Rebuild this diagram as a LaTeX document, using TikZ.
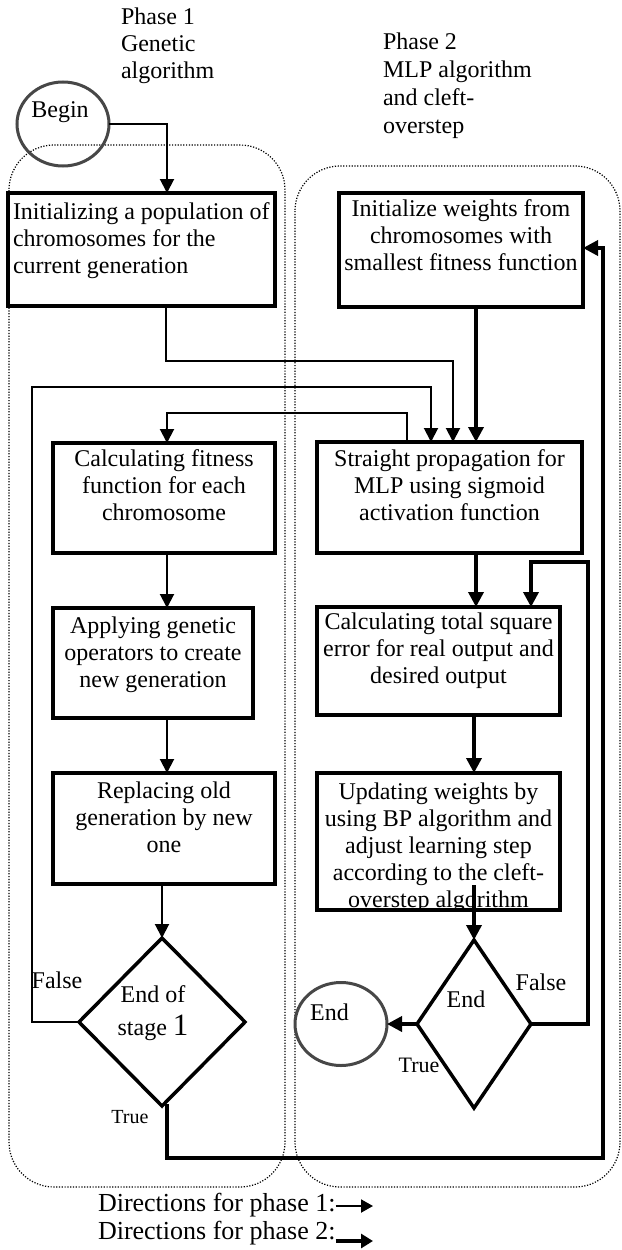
\documentclass[tikz,border=0pt]{standalone}
\usepackage{fontspec}
\setmainfont{Liberation Serif}
\usetikzlibrary{arrows.meta,shapes.geometric,calc}
\begin{document}
\begin{tikzpicture}[x=1pt,y=-1pt,
  every node/.style={inner sep=0pt,outer sep=0pt},
  fnt/.style={font=\fontsize{24}{27}\selectfont},
  box/.style={draw,line width=3.5pt,rectangle},
  txt/.style={fnt,align=center,anchor=north},
  dia/.style={draw,diamond,line width=3.5pt},
  oval/.style={draw=black!72,ellipse,line width=3pt},
  p1/.style={line width=2pt,-{Triangle[length=14pt,width=14pt]}},
  p2/.style={line width=3.5pt,-{Triangle[length=15pt,width=15pt]}},
  dotbox/.style={line width=1.2pt,dash pattern=on 1.2pt off 1.6pt,rounded corners=45pt}]
\useasboundingbox (0,0) rectangle (621,1250);

% phase regions
\draw[dotbox] (9,145) rectangle (285,1187);
\draw[dotbox] (295,166) rectangle (620,1187);

% phase labels
\node[fnt,align=left,anchor=north west] (ph1) at (121,8) {Phase 1\\Genetic\\algorithm};
\node[font=\fontsize{24}{28}\selectfont,align=left,anchor=north west] (ph2) at (383,33) {Phase 2\\MLP algorithm\\and cleft-\\overstep};

% begin / end ovals
\node[oval,minimum width=92pt,minimum height=84pt] (begin) at (63,124) {};
\node[fnt] (begint) at (60,112) {Begin};
\node[oval,minimum width=92pt,minimum height=83pt] (endn) at (341,1024) {};
\node[fnt] (endt) at (329.5,1012) {End};

% boxes
\node[box,minimum width=267pt,minimum height=113pt] (b1) at (141.5,249.5) {};
\node[fnt,align=left,anchor=north west] (t1) at ([xshift=5pt,yshift=-10pt]b1.north west) {Initializing a population of\\chromosomes for the\\current generation};

\node[box,minimum width=244pt,minimum height=114pt] (b2) at (461,250) {};
\node[txt] (t2) at ([yshift=-7pt]b2.north) {Initialize weights from\\chromosomes with\\smallest fitness function};

\node[box,minimum width=265pt,minimum height=111pt] (b3) at (449.5,497.5) {};
\node[txt] (t3) at ([yshift=-8pt]b3.north) {Straight propagation for\\MLP using sigmoid\\activation function};

\node[box,minimum width=222pt,minimum height=110pt] (b4) at (164,498) {};
\node[txt] (t4) at ([yshift=-7pt]b4.north) {Calculating fitness\\function for each\\chromosome};

\node[box,minimum width=243pt,minimum height=108pt] (b5) at (438.5,661) {};
\node[txt] (t5) at ([yshift=-6pt]b5.north) {Calculating total square\\error for real output and\\desired output};

\node[box,minimum width=200pt,minimum height=110pt] (b6) at (153,663) {};
\node[txt] (t6) at ([yshift=-9pt]b6.north) {Applying genetic\\operators to create\\new generation};

\node[box,minimum width=222pt,minimum height=111pt] (b7) at (164,828.5) {};
\node[txt] (t7) at ([yshift=-9pt]b7.north) {Replacing old\\generation by new\\one};

\begin{scope}
\clip (317,773) rectangle (560,910);
\node[txt] (t8) at (438.5,783) {Updating weights by\\using BP algorithm and\\adjust learning step\\according to the cleft-\\overstep algorithm};
\end{scope}
\node[box,minimum width=243pt,minimum height=137pt] (b8) at (438.5,841.5) {};

% decisions
\node[dia,minimum width=166pt,minimum height=168pt] (d1) at (162,1022) {};
\node[fnt,align=center] (d1t) at (153,1013) {End of\\[6pt]stage {\fontsize{31}{27}\selectfont 1}};
\node[dia,minimum width=114pt,minimum height=168pt] (d2) at (474,1024) {};
\node[fnt] (d2t) at (466,999) {End};

% branch labels
\node[fnt] (f1l) at (57,980) {False};
\node[fnt] (f2l) at (541,982) {False};
\node[font=\fontsize{20}{24}\selectfont] (tr1l) at (130,1117) {True};
\node[font=\fontsize{22}{24}\selectfont] (tr2l) at (419,1065) {True};

% phase 1 connectors
\draw[p1] (begin.east) -| ([xshift=25.5pt]b1.north);
\draw[p1] ([xshift=24.5pt]b1.south) -- ++(0,55) -| ([xshift=3.5pt]b3.north);
\coordinate (f1c) at (32,387);
\draw[p1] (d1.west) -| (f1c) -| ([xshift=-18.5pt]b3.north);
\draw[p1] ([xshift=-42.5pt]b3.north) -- ++(0,-29) -| ([xshift=3pt]b4.north);
\draw[p1] ([xshift=3pt]b4.south) -- ([xshift=14pt]b6.north);
\draw[p1] ([xshift=14pt]b6.south) -- ([xshift=3pt]b7.north);
\draw[p1] (b7.south -| d1.north) -- (d1.north);

% phase 2 connectors
\draw[p2] ([xshift=15pt]b2.south) -- ([xshift=26.5pt]b3.north);
\coordinate (t1c) at (603,1158);
\draw[p2] ([xshift=5pt,yshift=2pt]d1.south) |- (t1c) |- ([yshift=2pt]b2.east);
\draw[p2] ([xshift=26.5pt]b3.south) -- ([xshift=37.5pt]b5.north);
\draw[p2] ([xshift=35.5pt]b5.south) -- ([xshift=35.5pt]b8.north);
\draw[p2] ([xshift=35.5pt,yshift=25pt]b8.south) -- (d2.north);
\coordinate (f2c) at (588,562);
\draw[p2] (d2.east) -| (f2c) -| ([xshift=92.5pt]b5.north);
\draw[p2] (d2.west) -- (endn.east);

% legend
\node[font=\fontsize{26}{28}\selectfont,anchor=west] (leg1) at (98,1205) {Directions for phase 1:};
\node[font=\fontsize{26}{28}\selectfont,anchor=west] (leg2) at (98,1233) {Directions for phase 2:};
\coordinate (la1) at (373,1206);
\coordinate (la2) at (373,1241);
\draw[line width=2pt,-{Triangle[length=12pt,width=13pt]}] (la1 -| leg1.east) -- (la1);
\draw[line width=3.5pt,-{Triangle[length=12pt,width=14pt]}] (la2 -| leg2.east) -- (la2);
\end{tikzpicture}
\end{document}
